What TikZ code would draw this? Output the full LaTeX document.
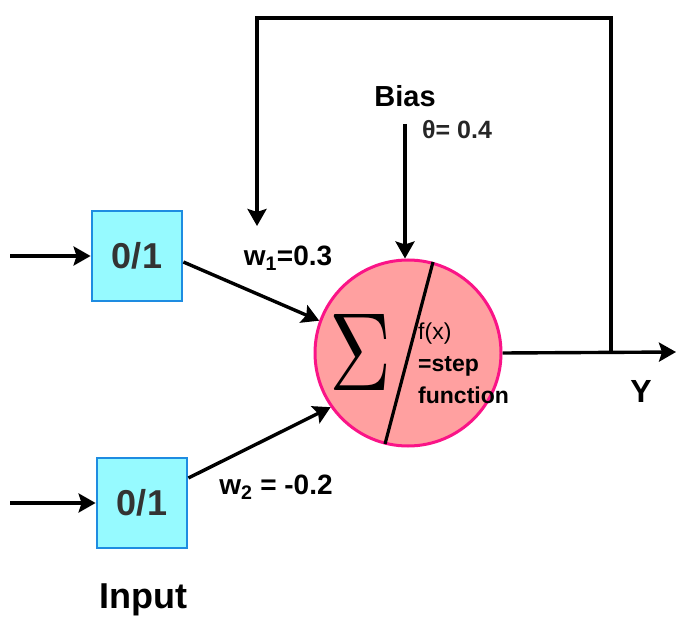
\documentclass[tikz,border=0pt]{standalone}
\usepackage{fontspec}
\usepackage{graphicx}
\setmainfont{Liberation Sans}
\usetikzlibrary{arrows.meta}
\definecolor{boxfill}{RGB}{150,250,255}
\definecolor{boxline}{RGB}{30,140,225}
\definecolor{cellfill}{RGB}{255,160,160}
\definecolor{cellline}{RGB}{250,20,135}
\begin{document}
\begin{tikzpicture}[x=1pt,y=-1pt,
  inbox/.style={draw=boxline, line width=2.8pt, fill=boxfill, minimum width=90pt, minimum height=90pt, inner sep=0pt,
    font=\fontsize{36}{36}\bfseries\selectfont, text=black!80},
  neuron/.style={circle, draw=cellline, line width=3pt, fill=cellfill, minimum size=186pt, inner sep=0pt},
  wire/.style={line width=3.4pt, -{Stealth[length=17pt,width=19pt,inset=3pt]}},
  plain/.style={line width=3.2pt},
  lbl/.style={font=\fontsize{28}{28}\bfseries\selectfont, inner sep=0pt}]
\useasboundingbox (0,0) rectangle (676,617);

% input boxes
\node[inbox] (x1) at (137,256) {0/1};
\node[inbox] (x2) at (142,503) {0/1};
\coordinate (s1) at (10,256);
\coordinate (s2) at (10,503);
\draw[wire] (s1) -- (x1.west);
\draw[wire] (s2) -- (x2.west);

% neuron
\node[neuron] (n) at (408,353) {};
\coordinate (dtop) at (433,262);
\coordinate (dbot) at (385,444);
\draw[plain] (dtop) -- (dbot);
\node[inner sep=0pt] (sig) at (361,352) {\resizebox{62pt}{76pt}{$\Sigma$}};
\node[inner sep=0pt, font=\fontsize{23}{32}\selectfont, anchor=west, align=left] (fx) at (418,363)
  {f(x)\\\bfseries =step\\\bfseries function};

% weighted connections
\draw[wire] (x1.east |- 0,262) -- (n.160);
\draw[wire] (x2.east |- 0,478) -- (n.215);
\node[lbl] (w1) at (288,258) {w\textsubscript{1}=0.3};
\node[lbl] (w2) at (276,487) {w\textsubscript{2} = -0.2};

% bias
\coordinate (b0) at (405,124);
\draw[wire] (b0) -- (n.north -| b0);
\node[lbl, font=\fontsize{29}{29}\bfseries\selectfont] (bias) at (405,96) {Bias};
\node[lbl, font=\fontsize{25}{25}\bfseries\selectfont, text=black!85] (theta) at (457,130) {θ= 0.4};

% output and feedback
\coordinate (tap) at (611,352);
\coordinate (out) at (676,352);
\coordinate (c1) at (611,18);
\coordinate (c2) at (257,18);
\coordinate (fb) at (257,226);
\draw[wire] (n.east) -- (out);
\draw[wire] (tap) -- (c1) -- (c2) -- (fb);
\node[lbl, font=\fontsize{32}{32}\bfseries\selectfont] (y) at (641,391) {Y};
\node[lbl, font=\fontsize{36}{36}\bfseries\selectfont] (inp) at (143,600) {Input};
\end{tikzpicture}
\end{document}
